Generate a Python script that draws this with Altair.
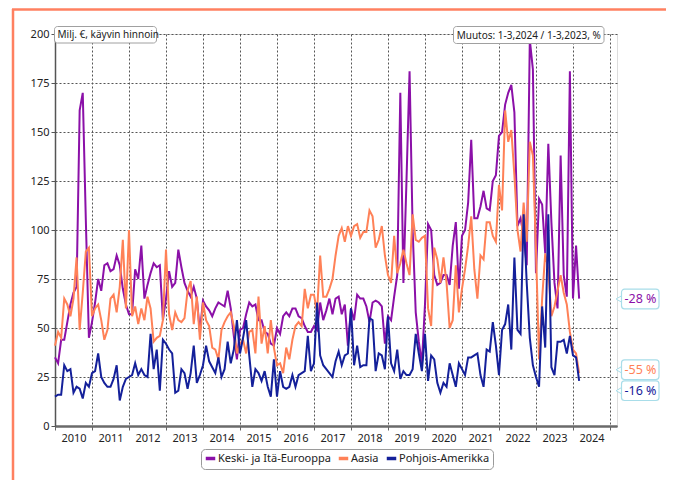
import altair as alt
import pandas as pd

START_YEAR = 2010
series_names = ["Keski- ja Itä-Eurooppa", "Aasia", "Pohjois-Amerikka"]
series_colors = ["#8B10A8", "#FF8157", "#14209A"]

# Monthly values, Jan 2010 - Mar 2024 (milj. €)
kie = [
    35, 32, 44, 44, 53, 62, 68, 71, 161, 170, 105, 45,
    53, 63, 75, 69, 82, 83, 79, 80, 87, 82, 70, 62,
    57, 57, 80, 75, 92, 65, 72, 78, 83, 81, 82, 54,
    65, 79, 71, 73, 90, 81, 73, 69, 66, 71, 65, 48,
    64, 61, 59, 56, 60, 63, 62, 61, 69, 60, 46, 34,
    49, 50, 57, 63, 61, 62, 54, 54, 48, 47, 42, 41,
    50, 47, 56, 58, 56, 60, 60, 56, 55, 51, 48, 48,
    51, 49, 63, 54, 59, 65, 57, 65, 66, 57, 62, 41,
    60, 54, 67, 65, 65, 61, 53, 63, 64, 63, 61, 42,
    56, 54, 66, 77, 170, 73, 125, 181, 100, 58, 43, 32,
    62, 103, 100, 77, 72, 73, 77, 77, 72, 92, 104, 70,
    97, 100, 114, 146, 106, 106, 112, 120, 111, 110, 125, 128,
    148, 150, 164, 170, 174, 160, 102, 106, 97, 82, 197, 182,
    78, 116, 113, 88, 144, 104, 73, 60, 138, 77, 66, 181,
    65, 92, 65,
]
aas = [
    41, 48, 45, 65, 62, 56, 65, 86, 49, 68, 89, 91,
    56, 60, 62, 54, 44, 49, 65, 67, 58, 71, 95, 60,
    100, 56, 61, 52, 60, 54, 66, 60, 43, 45, 46, 54,
    90, 57, 49, 58, 54, 53, 55, 69, 74, 52, 66, 44,
    63, 54, 51, 40, 39, 34, 49, 53, 56, 58, 51, 37,
    42, 44, 37, 48, 49, 37, 66, 42, 51, 37, 54, 40,
    31, 32, 27, 40, 34, 44, 51, 53, 51, 70, 60, 67,
    67, 58, 87, 66, 66, 70, 75, 87, 97, 101, 94, 102,
    97, 102, 103, 96, 99, 99, 110, 107, 91, 95, 102, 87,
    77, 73, 97, 78, 83, 90, 83, 77, 108, 95, 94, 96,
    97, 60, 51, 91, 85, 73, 86, 73, 50, 54, 82, 58,
    70, 80, 92, 107, 80, 65, 87, 85, 104, 104, 97, 94,
    123, 110, 161, 145, 151, 128, 100, 89, 114, 94, 145, 138,
    90, 34, 65, 88, 80, 56, 61, 69, 77, 68, 62, 48,
    39, 37, 27,
]
pna = [
    15, 16, 16, 31, 28, 29, 17, 20, 19, 14, 22, 20,
    27, 28, 37, 25, 22, 20, 20, 24, 31, 13, 20, 24,
    25, 26, 32, 26, 29, 26, 25, 47, 29, 39, 18, 44,
    42, 39, 37, 17, 18, 29, 27, 19, 27, 41, 22, 26,
    31, 41, 33, 30, 27, 35, 25, 29, 43, 32, 39, 54,
    37, 45, 54, 36, 20, 29, 27, 23, 28, 20, 15, 34,
    15, 28, 20, 19, 20, 26, 20, 26, 27, 28, 46, 28,
    32, 63, 36, 31, 29, 27, 25, 33, 38, 31, 36, 37,
    60, 31, 41, 30, 31, 31, 55, 54, 28, 37, 36, 29,
    56, 32, 28, 39, 24, 28, 26, 26, 29, 47, 37, 28,
    47, 23, 36, 34, 22, 17, 22, 20, 32, 26, 20, 32,
    29, 26, 35, 35, 36, 37, 26, 20, 39, 38, 53, 41,
    26, 49, 52, 62, 39, 86, 49, 47, 108, 73, 45, 31,
    25, 20, 61, 40, 108, 30, 26, 43, 43, 44, 37, 46,
    36, 35, 23,
]

change_labels = ["-28 %", "-55 %", "-16 %"]
change_label_y = [64.8, 28.7, 18.0]   # where the callouts sit on the value axis
year_ticks = list(range(2010, 2026))
y_ticks = [0, 25, 50, 75, 100, 125, 150, 175, 200]
unit_note = "Milj. €, käyvin hinnoin"
change_note = "Muutos: 1-3,2024 / 1-3,2023, %"

FONT = "Noto Sans"
GRID = "#555555"

rows = []
for name, vals in zip(series_names, [kie, aas, pna]):
    for i, v in enumerate(vals):
        rows.append({"t": START_YEAR + i / 12.0, "v": v, "s": name})
df = pd.DataFrame(rows)

x_enc = alt.X(
    "t:Q",
    scale=alt.Scale(domain=[2010, 2025.19], nice=False, zero=False),
    axis=alt.Axis(
        values=year_ticks, format="d", title=None,
        labelExpr="datum.value >= 2025 ? '' : datum.label",
        labelOffset=18.5, labelFlush=False, labelOverlap=False,
        grid=True, gridDash=[2, 2], gridColor=GRID, gridOpacity=1,
        tickSize=4, tickColor="#666666", domainColor="#6a6a6a", domainWidth=2.5,
        labelFont=FONT, labelFontSize=11, labelColor="#222222", labelPadding=2,
    ),
)
y_enc = alt.Y(
    "v:Q",
    scale=alt.Scale(domain=[0, 200], nice=False),
    axis=alt.Axis(
        values=y_ticks, title=None,
        grid=True, gridDash=[2, 2], gridColor=GRID, gridOpacity=1,
        tickSize=4, tickColor="#555555", domainColor="#555555", domainWidth=1.5,
        labelFont=FONT, labelFontSize=11, labelColor="#222222", labelPadding=2,
    ),
)
color_enc = alt.Color(
    "s:N",
    scale=alt.Scale(domain=series_names, range=series_colors),
    legend=alt.Legend(
        orient="none", legendX=146, legendY=415, direction="horizontal",
        title=None, symbolType="stroke", symbolStrokeWidth=3.5, symbolSize=90,
        symbolOffset=0,
        labelFont=FONT, labelFontSize=11, labelColor="#222222",
        columnPadding=0, labelOffset=1, padding=3, gridAlign="none",
        strokeColor="#9a9a9a", cornerRadius=4, fillColor="white",
    ),
)

base = alt.Chart(df).encode(x=x_enc, y=y_enc, color=color_enc)
lines = [
    base.transform_filter(alt.datum.s == name).mark_line(strokeWidth=2)
    for name in series_names
]

# outer salmon frame (decorative)
frame_top = alt.Chart(pd.DataFrame({"k": [0]})).mark_rule(
    color="#FF8060", strokeWidth=2.5
).encode(x=alt.value(-43), x2=alt.value(612), y=alt.value(-24.5))
frame_left = alt.Chart(pd.DataFrame({"k": [0]})).mark_rule(
    color="#FF8060", strokeWidth=2.5
).encode(x=alt.value(-42), y=alt.value(-25), y2=alt.value(446))

# note boxes
notes = pd.DataFrame({"txt": [unit_note, change_note]})
unit_box = alt.Chart(notes.iloc[[0]]).mark_rect(
    fill="white", stroke="#a0a0a0", strokeWidth=1, cornerRadius=3
).encode(x=alt.value(-0.5), x2=alt.value(101.5), y=alt.value(-7.5), y2=alt.value(9))
unit_txt = alt.Chart(notes.iloc[[0]]).mark_text(
    align="left", baseline="middle", font=FONT, fontSize=10, color="#222222"
).encode(x=alt.value(2.5), y=alt.value(1), text="txt:N")
chg_box = alt.Chart(notes.iloc[[1]]).mark_rect(
    fill="white", stroke="#a0a0a0", strokeWidth=1, cornerRadius=3
).encode(x=alt.value(398.5), x2=alt.value(549), y=alt.value(-7.5), y2=alt.value(9.5))
chg_txt = alt.Chart(notes.iloc[[1]]).mark_text(
    align="center", baseline="middle", font=FONT, fontSize=10, color="#222222"
).encode(x=alt.value(473.7), y=alt.value(1.5), text="txt:N")

# callouts on the right
cal = pd.DataFrame({
    "lab": change_labels,
    "yc": change_label_y,
    "s": series_names,
})
cal["y1"] = cal["yc"] + 5.0
cal["y2"] = cal["yc"] - 5.0
cal_color = alt.Color("s:N", scale=alt.Scale(domain=series_names, range=series_colors), legend=None)
cal_ptr = alt.Chart(cal).mark_point(
    shape="triangle-left", size=45, filled=True, fill="white", stroke="#a8dde9", strokeWidth=1, opacity=1
).encode(x=alt.value(564), y=alt.Y("yc:Q", scale=alt.Scale(domain=[0, 200], nice=False)))
cal_box = alt.Chart(cal).mark_rect(
    fill="white", stroke="#a8dde9", strokeWidth=1.2, cornerRadius=3
).encode(
    x=alt.value(566.5), x2=alt.value(604),
    y=alt.Y("y1:Q", scale=alt.Scale(domain=[0, 200], nice=False)), y2="y2:Q",
)
cal_txt = alt.Chart(cal).mark_text(
    align="center", baseline="middle", font=FONT, fontSize=12.5
).encode(
    x=alt.value(585.5),
    y=alt.Y("yc:Q", scale=alt.Scale(domain=[0, 200], nice=False)),
    text="lab:N", color=cal_color,
)

chart = alt.layer(
    frame_top, frame_left, *lines,
    unit_box, unit_txt, chg_box, chg_txt,
    cal_ptr, cal_box, cal_txt,
).properties(
    width=562, height=392,
    autosize=alt.AutoSizeParams(type="none"),
    padding={"left": 47, "top": 26, "right": 49, "bottom": 54},
).configure_view(
    stroke=None
).configure(
    background="white"
)

chart.save("out.html", embed_options={"renderer": "svg", "actions": False})
